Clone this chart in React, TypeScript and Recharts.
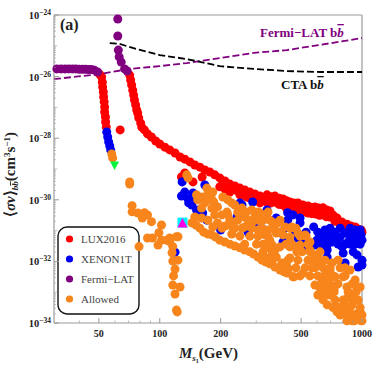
import { Scatter, ScatterChart, XAxis, YAxis } from "recharts";

type Pt = [number, number]; // [mass in GeV, log10 of <sigma v>]

const lux: Pt[] = [
  [50.4, -25.92], [51.6, -26.01], [52, -26.18], [52.2, -26.34], [52.6, -26.5], [52.8, -26.66], [53.1, -26.82], [53.4, -26.99],
  [53.4, -27.15], [53.9, -27.31], [54, -27.47], [54.4, -27.64], [63.7, -27.73],
  [71, -25.95], [71.8, -26.11], [72.6, -26.27], [73.5, -26.44], [74.3, -26.6], [75, -26.76], [76, -26.92], [76.9, -27.08],
  [77.8, -27.18], [78.7, -27.34], [80.5, -27.51], [81.5, -27.64], [84, -27.73], [87, -27.86], [91, -27.96], [95.5, -28.09],
  [100, -28.19], [106, -28.29], [112, -28.38], [119, -28.48], [126, -28.61], [133, -28.68], [141, -28.77], [149, -28.87],
  [158, -28.94], [167, -29.03], [177, -29.1], [187, -29.19], [198, -29.29], [210, -29.39], [222, -29.49], [235, -29.55],
  [249, -29.62], [263, -29.68], [279, -29.75], [295, -29.81], [313, -29.88], [331, -29.94],
  [339, -29.84], [371, -29.88], [407, -29.97], [440, -30.07], [482, -30.1], [541, -30.2], [585, -30.23], [642, -30.26],
  [695, -30.36], [752, -30.59], [843, -30.79], [925, -30.88], [990, -30.98],
  [249, -29.84], [279, -29.94], [313, -30.1], [339, -30.07], [371, -30.07], [407, -30.17], [440, -30.3], [482, -30.33],
  [541, -30.43], [592, -30.46], [642, -30.49], [695, -30.56], [780, -30.79], [873, -30.92],
  [128, -29.26], [146, -29.42], [162, -29.26], [133, -29.13], [222, -29.75], [270, -29.91], [198, -29.58], [210, -29.65],
  [355, -29.9], [389, -29.95], [423, -30.03], [460, -30.1], [510, -30.17], [560, -30.25], [612, -30.27], [668, -30.33],
  [720, -30.5], [795, -30.72], [880, -30.85], [955, -30.95], [355, -30.1], [389, -30.15], [423, -30.27], [460, -30.33],
  [510, -30.4], [565, -30.45], [617, -30.5], [668, -30.55], [735, -30.7], [825, -30.88], [930, -31], [1000, -31.05],
  [205, -29.5], [215, -29.55], [230, -29.65], [240, -29.7], [258, -29.85], [268, -29.85], [290, -29.95], [300, -30],
];

const xenon: Pt[] = [
  [54.7, -27.8], [55.3, -27.96], [55.9, -28.12], [56.6, -28.25], [57.2, -28.38],
  [129, -29.42], [133, -29.75], [128, -29.88], [146, -29.78], [144, -30.17], [152, -30.33], [167, -29.52], [171, -30.66],
  [163, -30.43], [200, -30.98], [241, -30.56], [255, -30.17], [288, -30.07], [273, -31.05], [249, -30.1], [138, -29.97],
  [151, -30], [139, -30.1], [119, -31.7], [295, -30.72], [320, -30.92],
  [339, -30.33], [377, -30.59], [429, -30.66], [456, -30.49], [494, -30.75], [577, -30.88], [529, -31.05], [416, -30.92],
  [407, -31.37], [482, -31.24], [541, -31.53], [642, -31.56], [673, -31.86], [825, -32.05], [656, -30.98], [735, -31.05],
  [825, -31.08], [905, -31.14], [1000, -31.31], [598, -31.31], [711, -31.37], [798, -31.53], [807, -31.73], [905, -31.69],
  [945, -31.79], [1000, -31.96], [957, -32.18], [1000, -32.12], [735, -31.24], [854, -31.37], [957, -31.4], [990, -31.14],
  [780, -31.21], [873, -31.21], [695, -31.18], [761, -31.44], [673, -31.47],
  [695, -30.92], [780, -30.92], [873, -30.92], [925, -30.98], [979, -30.98], [925, -31.18], [979, -31.2], [825, -31.44],
  [873, -31.44], [925, -31.44], [979, -31.44], [429, -30.42], [494, -30.59], [620, -31.21], [656, -31.21], [605, -31.05],
  [642, -31.44], [585, -31.47], [673, -31.63], [511, -31.43], [466, -31],
];

const fermiPts: Pt[] = [
  [31, -25.75], [32.5, -25.75], [34, -25.75], [35.5, -25.75], [37, -25.75], [38.5, -25.75], [40, -25.76], [41.5, -25.76],
  [43, -25.76], [44.5, -25.77], [46, -25.77], [47.5, -25.79], [49.3, -25.85],
  [62, -24.13], [62, -24.68], [62.4, -25.14], [63, -25.36], [64.5, -25.53], [67, -25.75], [69, -25.82],
];

const allowed: Pt[] = [
  [57.9, -28.51], [58.5, -28.64], [71, -29.42], [71, -29.49],
  [73, -30.19], [73, -30.39], [78, -30.43], [82, -30.59], [84, -30.42], [87, -30.49], [91, -30.71], [102, -30.82],
  [87, -31.24], [92, -31.24], [99, -31.07], [98, -31.47], [102, -31.31], [108, -31.31], [112, -31.36], [121, -31.2],
  [116, -31.52], [115, -31.72], [116, -31.99], [123, -31.96], [119, -32.25], [117, -32.47], [116, -32.77], [126, -32.83],
  [119, -33.06], [121, -33.58], [122, -33.64], [79, -31.52], [123, -31.2], [112, -31.24],
  [136, -29.19], [138, -29.29], [154, -30], [171, -29.62], [183, -29.75], [173, -29.84], [165, -29.91], [181, -30],
  [167, -30.1], [181, -30.27], [193, -30.23], [161, -30.27], [149, -30.56], [161, -30.59], [183, -30.88], [193, -30.75],
  [227, -30.85], [215, -30.4], [217, -30.49], [205, -29.91], [217, -30], [235, -30.17], [255, -30.27], [285, -30.33],
  [263, -30.56], [295, -30.56], [313, -30.43], [324, -30.66], [285, -30.75], [263, -30.88], [306, -30.98],
  [158, -29.91], [177, -29.75], [185, -30.07], [152, -29.84],
  [144, -30.75], [151, -30.82], [158, -30.92], [165, -31.05], [173, -31.11], [181, -31.14], [189, -31.21], [198, -31.31],
  [210, -31.37], [222, -31.44], [235, -31.5], [249, -31.56], [263, -31.63], [279, -31.69], [291, -31.76], [306, -31.86],
  [320, -31.96], [335, -32.02], [350, -32.08], [371, -32.18], [393, -32.28], [411, -32.34], [427, -32.38], [461, -32.5],
  [339, -30.59], [360, -30.72], [384, -30.75], [416, -30.88], [450, -30.88], [343, -30.98], [377, -31.08], [407, -31.14],
  [440, -31.21], [360, -31.47], [393, -31.53], [343, -31.89], [377, -31.86], [402, -32.05], [350, -32.02], [430, -32.34],
  [456, -32.5], [440, -31.89], [476, -31.56], [505, -31.69], [482, -31.08], [523, -31.14], [553, -31.37], [585, -31.79],
  [620, -31.96], [541, -31.96], [511, -32.38], [523, -32.21], [642, -32.21], [711, -32.05], [735, -32.5], [673, -32.6],
  [656, -32.44], [807, -32.5], [873, -32.28], [585, -32.77], [620, -32.86], [673, -32.86], [605, -33.09], [642, -33.19],
  [695, -33.09], [673, -33.41], [752, -33.48], [752, -33.64], [807, -33.25], [854, -33.16], [905, -33.19], [843, -32.83],
  [925, -32.6], [979, -32.83], [945, -32.86], [895, -33.41], [825, -33.58], [979, -33.64], [854, -33.8], [945, -33.84],
  [895, -33.93], [1000, -33.93], [843, -33.93], [915, -33.93], [990, -33.93],
  [371, -30.82], [393, -31.05], [331, -31.14], [350, -31.31], [335, -31.56], [371, -31.63], [440, -31.53], [494, -31.47],
  [553, -31.63], [605, -32.02], [565, -32.21], [695, -32.28], [634, -32.6], [728, -32.9], [815, -33.41], [945, -33.7],
  [249, -30.4], [268, -30.4], [306, -30.4], [343, -30.4],
  [222, -30.66], [243, -30.66], [273, -30.66], [306, -30.66], [350, -30.66], [393, -30.66],
  [235, -30.92], [255, -30.92], [285, -30.92], [320, -30.92], [360, -30.92], [440, -30.92], [471, -30.92],
  [249, -31.18], [279, -31.18], [306, -31.18], [343, -31.18], [494, -31.18], [529, -31.18],
  [263, -31.44], [301, -31.44], [324, -31.44], [421, -31.44], [450, -31.44], [541, -31.44],
  [324, -31.69], [360, -31.69], [476, -31.69], [553, -31.69], [620, -31.69],
  [360, -31.96], [430, -31.96], [482, -31.96], [572, -31.96], [656, -31.96], [761, -31.96],
  [430, -32.21], [471, -32.21], [585, -32.21], [695, -32.21], [780, -32.21], [825, -32.21],
  [494, -32.47], [553, -32.47], [605, -32.47], [719, -32.47], [825, -32.47],
  [634, -32.73], [695, -32.73], [761, -32.73], [895, -32.73],
  [656, -32.99], [728, -32.99], [854, -32.99], [935, -32.99],
  [642, -33.25], [735, -33.25], [825, -33.25], [957, -33.25],
  [719, -33.5], [789, -33.5], [873, -33.5], [979, -33.5],
  [780, -33.74], [895, -33.74], [1000, -33.74],
  [227, -30.1], [243, -30.4], [203, -30.49], [187, -30.49], [173, -30.66], [210, -30.85], [227, -31.11], [203, -30.92],
];

const fermiLimit: Pt[] = [
  [30, -26.08], [50.4, -25.92], [71, -25.75], [100, -25.66], [136, -25.56], [198, -25.4], [291, -25.23], [425, -25.14],
  [620, -24.97], [1000, -24.75],
];
const ctaLimit: Pt[] = [
  [56.6, -24.91], [63.4, -24.94], [73.5, -25.07], [100, -25.3], [136, -25.43], [198, -25.66], [291, -25.75], [425, -25.82],
  [620, -25.85], [1000, -25.85],
];

const benchmarkGreen: Pt[] = [[59.8, -28.87]];
const benchmarkCyan: Pt[] = [[129.5, -30.74]];

const xMajor = [50, 100, 200, 500, 1000];
const xMinor = [40, 60, 70, 80, 90, 300, 400, 600, 700, 800, 900];
const yMajor = [-34, -32, -30, -28, -26, -24];
const yOdd = [-33, -31, -29, -27, -25];
const yDecades = [-34, -33, -32, -31, -30, -29, -28, -27, -26, -25];
const yMinor = yDecades.flatMap((d) => [2, 3, 4, 5, 6, 7, 8, 9].map((k) => d + Math.log10(k)));

const toRows = (pts: Pt[]) => pts.map(([x, y]) => ({ x, y }));

const FONT = "'Liberation Serif', serif";
const RED = "#ff0000";
const BLUE = "#0000f0";
const PURPLE = "#800080";
const ORANGE = "#f7851c";
const FRAME = "#9a9a9a";

const legendItems = [
  { name: "LUX2016", color: RED },
  { name: "XENON1T", color: BLUE },
  { name: "Fermi\u2212LAT", color: PURPLE },
  { name: "Allowed", color: ORANGE },
];

const Dot = (color: string) => (p: any) => <circle cx={p.cx} cy={p.cy} r={4.5} fill={color} />;

const XTick = ({ x, y, payload, dir, labelled }: any) => {
  const major = xMajor.includes(payload.value);
  return (
    <g>
      <line x1={x} x2={x} y1={y} y2={y + dir * (major ? 5 : 2.5)} stroke={FRAME} strokeWidth={major ? 1 : 0.7} />
      {labelled && major && (
        <text x={x} y={y + 14} textAnchor="middle" fontFamily={FONT} fontWeight="bold" fontSize={10} fill="#222">
          {payload.value}
        </text>
      )}
    </g>
  );
};

const YTick = ({ x, y, payload, dir, labelled }: any) => {
  const v = payload.value;
  const major = yMajor.includes(v);
  const mid = yOdd.includes(v);
  return (
    <g>
      <line x1={x} x2={x + dir * (major ? 5 : mid ? 3.5 : 2)} y1={y} y2={y} stroke={FRAME} strokeWidth={major ? 1 : 0.6} />
      {labelled && major && (
        <text x={x - 3} y={y + 4} textAnchor="end" fontFamily={FONT} fontWeight="bold" fontSize={10.5} fill="#222">
          10
          <tspan dy={-4} fontSize={7.5}>{"\u2212" + Math.abs(v)}</tspan>
        </text>
      )}
    </g>
  );
};

const axisProps = { tickLine: false, tickSize: 0, tickMargin: 0, interval: 0 as const, stroke: FRAME };

export default function App() {
  return (
    <div style={{ position: "absolute", left: 0, top: 0, width: 374, height: 365 }}>
      <ScatterChart width={374} height={365} margin={{ top: 14, right: 11, bottom: 41, left: 53 }}>
        <XAxis
          {...axisProps}
          type="number"
          dataKey="x"
          scale="log"
          domain={[30, 1000]}
          ticks={[...xMajor, ...xMinor]}
          height={1}
          axisLine={{ stroke: FRAME, strokeWidth: 1.2 }}
          tick={<XTick dir={-1} labelled />}
        />
        <XAxis
          {...axisProps}
          xAxisId="top"
          orientation="top"
          type="number"
          dataKey="x"
          scale="log"
          domain={[30, 1000]}
          ticks={[...xMajor, ...xMinor]}
          height={1}
          axisLine={{ stroke: FRAME, strokeWidth: 1.2 }}
          tick={<XTick dir={1} />}
        />
        <YAxis
          {...axisProps}
          type="number"
          dataKey="y"
          domain={[-34, -24]}
          ticks={[...yMajor, ...yOdd, ...yMinor]}
          width={1}
          axisLine={{ stroke: "#c4c4c4", strokeWidth: 2 }}
          tick={<YTick dir={1} labelled />}
        />
        <YAxis
          {...axisProps}
          yAxisId="right"
          orientation="right"
          type="number"
          dataKey="y"
          domain={[-34, -24]}
          ticks={[...yMajor, ...yOdd, ...yMinor]}
          width={1}
          axisLine={{ stroke: FRAME, strokeWidth: 1.2 }}
          tick={<YTick dir={-1} />}
        />
        <Scatter name="LUX2016" data={toRows(lux)} fill={RED} shape={Dot(RED)} isAnimationActive={false} />
        <Scatter name="XENON1T" data={toRows(xenon)} fill={BLUE} shape={Dot(BLUE)} isAnimationActive={false} />
        <Scatter name="Fermi-LAT" data={toRows(fermiPts)} fill={PURPLE} shape={Dot(PURPLE)} isAnimationActive={false} />
        <Scatter name="Allowed" data={toRows(allowed)} fill={ORANGE} shape={Dot(ORANGE)} isAnimationActive={false} />
        <Scatter
          data={toRows(benchmarkGreen)}
          isAnimationActive={false}
          shape={(p: any) => (
            <path d={`M${p.cx - 4.5} ${p.cy - 3.5}H${p.cx + 4.5}L${p.cx} ${p.cy + 5}Z`} fill="#00f53c" />
          )}
        />
        <Scatter
          data={toRows(benchmarkCyan)}
          isAnimationActive={false}
          shape={(p: any) => (
            <g>
              <rect x={p.cx - 5} y={p.cy - 5} width={10} height={10} fill="#00f0ff" />
              <path d={`M${p.cx} ${p.cy - 4.5}L${p.cx + 5} ${p.cy + 5}H${p.cx - 5}Z`} fill="#ff00e6" />
            </g>
          )}
        />
        <Scatter
          data={toRows(fermiLimit)}
          line={{ stroke: PURPLE, strokeWidth: 1.8, strokeDasharray: "7 3" }}
          shape={() => <g />}
          isAnimationActive={false}
        />
        <Scatter
          data={toRows(ctaLimit)}
          line={{ stroke: "#000", strokeWidth: 1.8, strokeDasharray: "7 3" }}
          shape={() => <g />}
          isAnimationActive={false}
        />
        <g>
          <rect x={58} y={227} width={81} height={87} rx={9} fill="#fff" stroke="#111" strokeWidth={1.4} />
          {legendItems.map((item, i) => (
            <g key={item.name}>
              <circle cx={69.5} cy={239 + i * 20} r={3.6} fill={item.color} />
              <text x={81} y={242.5 + i * 20} fontFamily={FONT} fontSize={11} fill="#444">
                {item.name}
              </text>
            </g>
          ))}
        </g>
        <text x={60} y={30} fontFamily={FONT} fontWeight="bold" fontSize={16} fill="#222">(a)</text>
        <text x={260} y={37} fontFamily={FONT} fontWeight="bold" fontSize={13} fill={PURPLE}>
          {"Fermi\u2212LAT b"}
          <tspan fontStyle="italic" textDecoration="overline">b</tspan>
        </text>
        <text x={281} y={89} fontFamily={FONT} fontWeight="bold" fontSize={13} fill="#111">
          {"CTA b"}
          <tspan fontStyle="italic" textDecoration="overline">b</tspan>
        </text>
        <text x={179} y={358} fontFamily={FONT} fontWeight="bold" fontSize={15} fill="#222">
          <tspan fontStyle="italic">M</tspan>
          <tspan dy={3} fontSize={9} fontStyle="italic">s</tspan>
          <tspan dy={2} fontSize={6}>1</tspan>
          <tspan dy={-5}>(GeV)</tspan>
        </text>
        <text
          transform="translate(15,217) rotate(-90)"
          fontFamily={FONT}
          fontWeight="bold"
          fontSize={15}
          fill="#222"
        >
          {"\u27E8"}
          <tspan fontStyle="italic">{"\u03C3v"}</tspan>
          {"\u27E9"}
          <tspan dy={3} fontSize={9} fontStyle="italic">b</tspan>
          <tspan fontSize={9} fontStyle="italic" textDecoration="overline">b</tspan>
          <tspan dy={-3}>(cm</tspan>
          <tspan dy={-5} fontSize={9}>3</tspan>
          <tspan dy={5}>s</tspan>
          <tspan dy={-5} fontSize={9}>{"\u22121"}</tspan>
          <tspan dy={5}>)</tspan>
        </text>
      </ScatterChart>
    </div>
  );
}
